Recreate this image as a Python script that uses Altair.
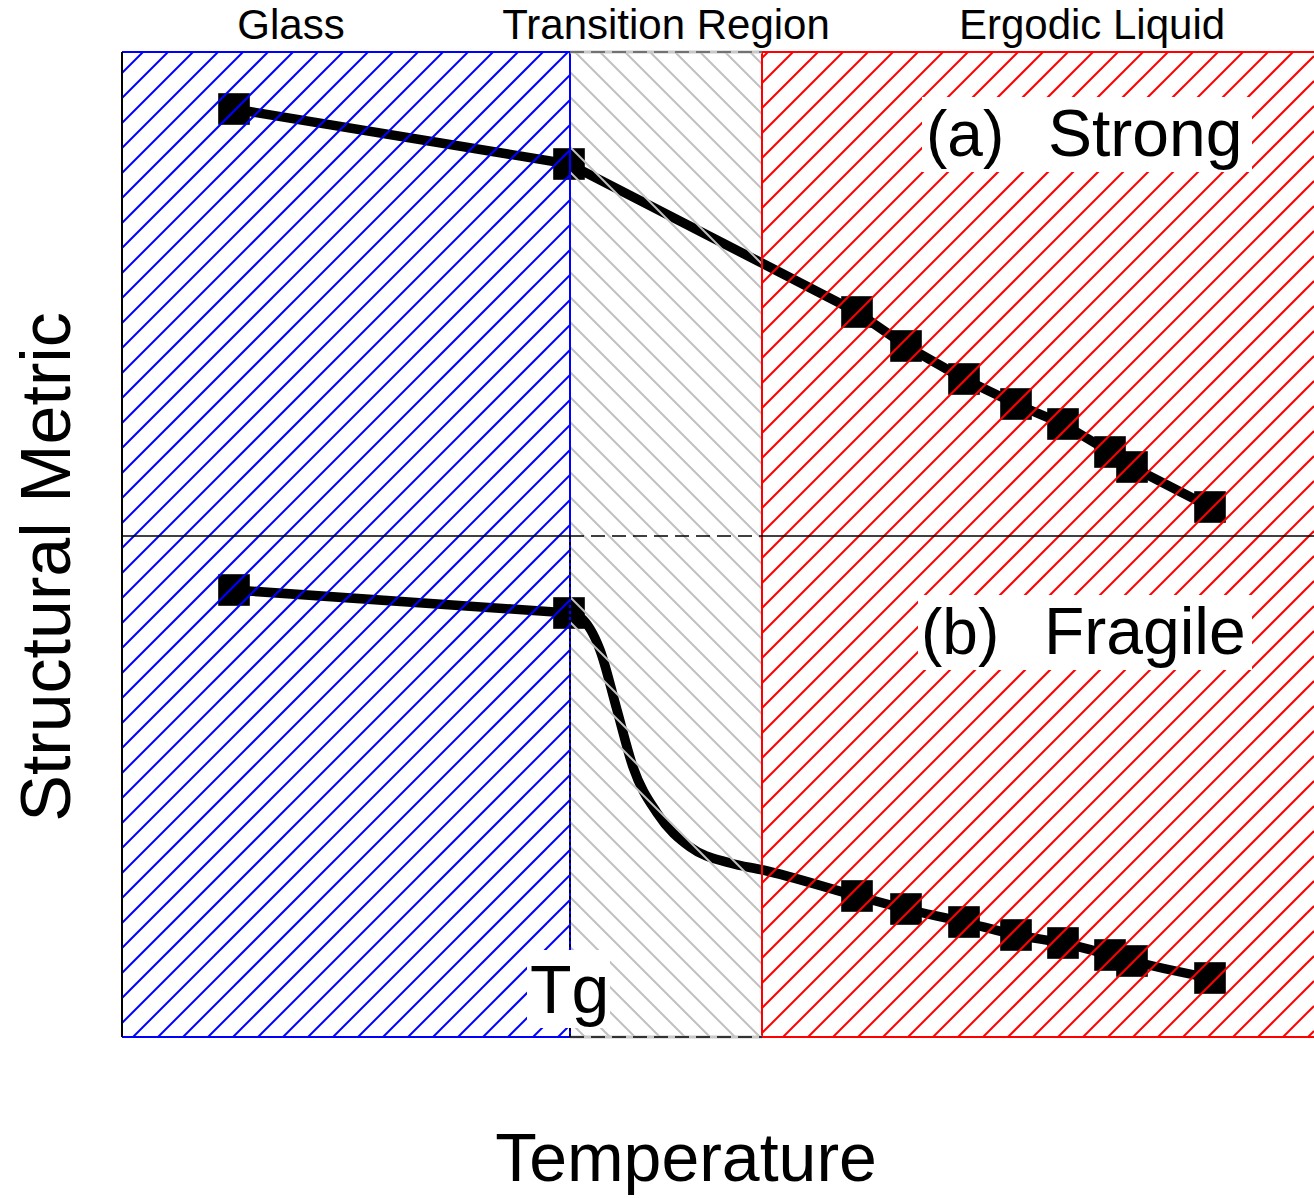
import math
import altair as alt
import pandas as pd

# ---- plot units: x 0..1192 (temperature, arbitrary), y 0..985 (structural metric, arbitrary)
X_MAX, Y_MAX = 1192, 985
TG = 448            # glass transition
LIQ = 640           # start of ergodic liquid
SPLIT = 501         # boundary between the two panels

temps = [112, 447, 735, 784, 842, 894, 941, 988, 1010, 1088]
strong = [928, 873, 725, 691, 658, 633, 613, 585, 570, 530]
fragile = [447, 424, 141, 128, 115, 102, 94, 82, 76, 59]
fragile_curve_x = [458, 478, 495, 511, 535, 568, 608, 641]
fragile_curve_y = [420, 387, 327, 270, 224, 190, 174, 167]

region_names = ["Glass", "Transition Region", "Ergodic Liquid"]
region_label_x = [169, 544, 970]
panel_tags = ["(a)", "(b)"]
panel_names = ["Strong", "Fragile"]

xs = alt.Scale(domain=[0, X_MAX], nice=False, zero=False)
ys = alt.Scale(domain=[0, Y_MAX], nice=False, zero=False)

# ---- data series
pts = pd.DataFrame(
    {"t": temps + temps, "v": strong + fragile, "s": ["strong"] * len(temps) + ["fragile"] * len(temps)}
)
strong_df = pd.DataFrame({"t": temps, "v": strong})
frag_glass = pd.DataFrame({"t": temps[:2], "v": fragile[:2]})
frag_df = pd.DataFrame({"t": temps[1:2] + fragile_curve_x + temps[2:],
                        "v": fragile[1:2] + fragile_curve_y + fragile[2:]}).sort_values("t")

LW = 9.5
strong_line = alt.Chart(strong_df).mark_line(color="black", strokeWidth=LW, interpolate="linear").encode(
    x=alt.X("t:Q", scale=xs, axis=None), y=alt.Y("v:Q", scale=ys, axis=None), order="t:Q")
frag_line1 = alt.Chart(frag_glass).mark_line(color="black", strokeWidth=LW, interpolate="linear").encode(
    x=alt.X("t:Q", scale=xs, axis=None), y=alt.Y("v:Q", scale=ys, axis=None), order="t:Q")
frag_line2 = alt.Chart(frag_df).mark_line(color="black", strokeWidth=LW, interpolate="monotone").encode(
    x=alt.X("t:Q", scale=xs, axis=None), y=alt.Y("v:Q", scale=ys, axis=None), order="t:Q")
markers = alt.Chart(pts).mark_point(shape="square", filled=True, color="black", size=1000, opacity=1).encode(
    x=alt.X("t:Q", scale=xs, axis=None), y=alt.Y("v:Q", scale=ys, axis=None))


# ---- hatching (45 degree lines, 25 units apart)
def hatch(x0, x1, y0, y1, slope, phase, color, step=25):
    rows = []
    if slope > 0:
        bmin, bmax = y0 - x1, y1 - x0
    else:
        bmin, bmax = y0 + x0, y1 + x1
    k = math.floor((bmin - phase) / step)
    while phase + step * k <= bmax:
        b = phase + step * k
        if slope > 0:
            xa, xb = max(x0, y0 - b), min(x1, y1 - b)
        else:
            xa, xb = max(x0, b - y1), min(x1, b - y0)
        if xb - xa > 0.5:
            rows.append({"x": xa, "y": slope * xa + b, "x2": xb, "y2": slope * xb + b, "c": color})
        k += 1
    return rows


hatch_rows = (hatch(0, TG, 0, Y_MAX, 1, 14, "#0000ff")
              + hatch(TG, LIQ, 0, Y_MAX, -1, 13, "#c0c0c0")
              + hatch(LIQ, X_MAX, 0, Y_MAX, 1, 14, "#ff0000"))
hatch_df = pd.DataFrame(hatch_rows)
hatches = alt.Chart(hatch_df).mark_rule(strokeWidth=2).encode(
    x=alt.X("x:Q", scale=xs, axis=None), x2="x2:Q",
    y=alt.Y("y:Q", scale=ys, axis=None), y2="y2:Q",
    color=alt.Color("c:N", scale=None))

# ---- region borders
solid = pd.DataFrame([
    {"x": 0, "y": Y_MAX, "x2": TG, "y2": Y_MAX, "c": "#0000ff", "w": 2},
    {"x": 0, "y": 0, "x2": TG, "y2": 0, "c": "#0000ff", "w": 2},
    {"x": TG, "y": 0, "x2": TG, "y2": Y_MAX, "c": "#0000ff", "w": 2},
    {"x": 0, "y": 0, "x2": 0, "y2": Y_MAX, "c": "#000000", "w": 2},
    {"x": LIQ, "y": Y_MAX, "x2": X_MAX, "y2": Y_MAX, "c": "#ff0000", "w": 2},
    {"x": LIQ, "y": 0, "x2": X_MAX, "y2": 0, "c": "#ff0000", "w": 2},
    {"x": LIQ, "y": 0, "x2": LIQ, "y2": Y_MAX, "c": "#ff0000", "w": 2},
    {"x": TG, "y": Y_MAX, "x2": LIQ, "y2": Y_MAX, "c": "#c8c8c8", "w": 3},
    {"x": TG, "y": 0, "x2": LIQ, "y2": 0, "c": "#c8c8c8", "w": 3},
    {"x": 0, "y": SPLIT, "x2": TG, "y2": SPLIT, "c": "#000000", "w": 1.5},
    {"x": LIQ, "y": SPLIT, "x2": X_MAX, "y2": SPLIT, "c": "#000000", "w": 1.5},
])
solid_rules = alt.Chart(solid).mark_rule().encode(
    x=alt.X("x:Q", scale=xs, axis=None), x2="x2:Q",
    y=alt.Y("y:Q", scale=ys, axis=None), y2="y2:Q",
    color=alt.Color("c:N", scale=None),
    strokeWidth=alt.StrokeWidth("w:Q", scale=None))

dashed = pd.DataFrame([
    {"x": TG, "y": Y_MAX, "x2": LIQ, "y2": Y_MAX, "c": "#555555"},
    {"x": TG, "y": 0, "x2": LIQ, "y2": 0, "c": "#000000"},
    {"x": TG, "y": SPLIT, "x2": LIQ, "y2": SPLIT, "c": "#000000"},
])
dashed_rules = alt.Chart(dashed).mark_rule(strokeWidth=1.6, strokeDash=[14, 7]).encode(
    x=alt.X("x:Q", scale=xs, axis=None), x2="x2:Q",
    y=alt.Y("y:Q", scale=ys, axis=None), y2="y2:Q",
    color=alt.Color("c:N", scale=None))

tg_line = alt.Chart(pd.DataFrame([{"x": TG, "y": 0, "y2": SPLIT}])).mark_rule(
    strokeWidth=1.6, strokeDash=[3, 3], color="black").encode(
    x=alt.X("x:Q", scale=xs, axis=None), y=alt.Y("y:Q", scale=ys, axis=None), y2="y2:Q")

# ---- white label boxes
boxes = pd.DataFrame([
    {"x": 800, "x2": 1130, "y": 865, "y2": 940},
    {"x": 796, "x2": 1130, "y": 367, "y2": 442},
    {"x": 405, "x2": 488, "y": 9, "y2": 87},
])
box_layer = alt.Chart(boxes).mark_rect(color="white").encode(
    x=alt.X("x:Q", scale=xs, axis=None), x2="x2:Q",
    y=alt.Y("y:Q", scale=ys, axis=None), y2="y2:Q")

FONT = "Liberation Sans"

headers = alt.Chart(pd.DataFrame({"x": region_label_x, "y": [998] * 3, "t": region_names})).mark_text(
    font=FONT, fontSize=42, align="center", baseline="alphabetic", color="black").encode(
    x=alt.X("x:Q", scale=xs, axis=None), y=alt.Y("y:Q", scale=ys, axis=None), text="t:N")

panel_tag_text = alt.Chart(pd.DataFrame({"x": [804, 799], "y": [881, 383], "t": panel_tags})).mark_text(
    font=FONT, fontSize=64, align="left", baseline="alphabetic", color="black").encode(
    x=alt.X("x:Q", scale=xs, axis=None), y=alt.Y("y:Q", scale=ys, axis=None), text="t:N")
panel_name_text = alt.Chart(pd.DataFrame({"x": [926, 922], "y": [881, 383], "t": panel_names})).mark_text(
    font=FONT, fontSize=66, align="left", baseline="alphabetic", color="black").encode(
    x=alt.X("x:Q", scale=xs, axis=None), y=alt.Y("y:Q", scale=ys, axis=None), text="t:N")

tg_text = alt.Chart(pd.DataFrame({"x": [408], "y": [24], "t": ["Tg"]})).mark_text(
    font=FONT, fontSize=68, align="left", baseline="alphabetic", color="black").encode(
    x=alt.X("x:Q", scale=xs, axis=None), y=alt.Y("y:Q", scale=ys, axis=None), text="t:N")

xtitle = alt.Chart(pd.DataFrame({"x": [564], "y": [-144], "t": ["Temperature"]})).mark_text(
    font=FONT, fontSize=68, align="center", baseline="alphabetic", color="black").encode(
    x=alt.X("x:Q", scale=xs, axis=None), y=alt.Y("y:Q", scale=ys, axis=None), text="t:N")

ytitle = alt.Chart(pd.DataFrame({"x": [-52], "y": [470], "t": ["Structural Metric"]})).mark_text(
    font=FONT, fontSize=70, align="center", baseline="alphabetic", angle=270, color="black").encode(
    x=alt.X("x:Q", scale=xs, axis=None), y=alt.Y("y:Q", scale=ys, axis=None), text="t:N")

chart = alt.layer(
    strong_line, frag_line1, frag_line2, markers, hatches, solid_rules, dashed_rules, tg_line,
    box_layer, headers, panel_tag_text, panel_name_text, tg_text, xtitle, ytitle
).properties(
    width=X_MAX, height=Y_MAX,
    autosize=alt.AutoSizeParams(type="none"),
    padding={"left": 122, "top": 52, "right": 0, "bottom": 161},
    background="white",
).configure_view(stroke=None)

chart.save("out.html", embed_options={"renderer": "svg", "actions": False})
